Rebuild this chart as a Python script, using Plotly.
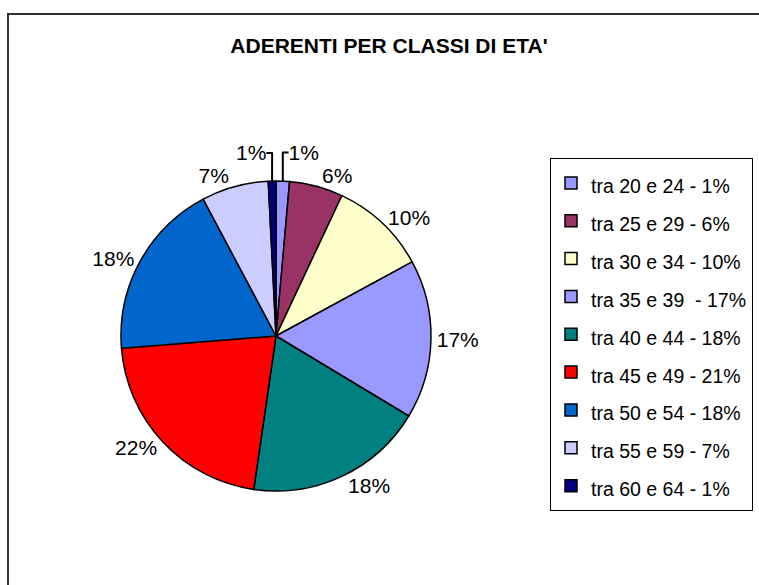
import plotly.graph_objects as go

legend_labels = ["tra 20 e 24 - 1%", "tra 25 e 29 - 6%", "tra 30 e 34 - 10%",
                 "tra 35 e 39  - 17%", "tra 40 e 44 - 18%", "tra 45 e 49 - 21%",
                 "tra 50 e 54 - 18%", "tra 55 e 59 - 7%", "tra 60 e 64 - 1%"]
shares = [1.4, 5.6, 10.1, 16.6, 18.7, 21.5, 18.5, 7.0, 0.8]
slice_text = ["1%", "6%", "10%", "17%", "18%", "22%", "18%", "7%", "1%"]
colors = ["#9999FF", "#993366", "#FFFFCC", "#9999FF", "#008080",
          "#FF0000", "#0066CC", "#CCCCFF", "#000080"]

W, H = 759, 585
cx, cy, r = 276, 336, 155

fig = go.Figure(go.Pie(
    labels=[f'<span style="font-size:19.5px">{l.replace("  ", "&nbsp; ")}</span>' for l in legend_labels],
    values=shares,
    text=slice_text,
    texttemplate="%{text}",
    textposition="outside",
    textfont=dict(family="Arial, Liberation Sans", size=21, color="black"),
    marker=dict(colors=colors, line=dict(color="black", width=1.5)),
    sort=False,
    direction="clockwise",
    rotation=0,
    hoverinfo="skip",
    domain=dict(x=[(cx - r) / W, (cx + r) / W], y=[(H - cy - r) / H, (H - cy + r) / H]),
))

fig.update_layout(
    width=W, height=H,
    margin=dict(l=0, r=0, t=0, b=0, autoexpand=False),
    paper_bgcolor="white",
    plot_bgcolor="white",
    font=dict(family="Arial, Liberation Sans", color="black"),
    title=dict(text="<b>ADERENTI PER CLASSI DI ETA'</b>", x=389 / W, y=1 - 46 / H,
               xanchor="center", yanchor="middle",
               font=dict(family="Arial, Liberation Sans", size=21, color="black")),
    showlegend=True,
    legend=dict(x=550 / W, y=1 - 158 / H, xanchor="left", yanchor="top",
                bordercolor="black", borderwidth=1, bgcolor="white",
                font=dict(family="Arial, Liberation Sans", size=26.8, color="black"),
                traceorder="normal"),
    shapes=[dict(type="rect", xref="paper", yref="paper",
                 x0=8 / W, x1=1.05, y0=-0.05, y1=1 - 14 / H,
                 line=dict(color="#333333", width=2))],
)

fig.write_html("out.html", config={"displayModeBar": False},
               post_script="document.body.style.margin='0px';")
